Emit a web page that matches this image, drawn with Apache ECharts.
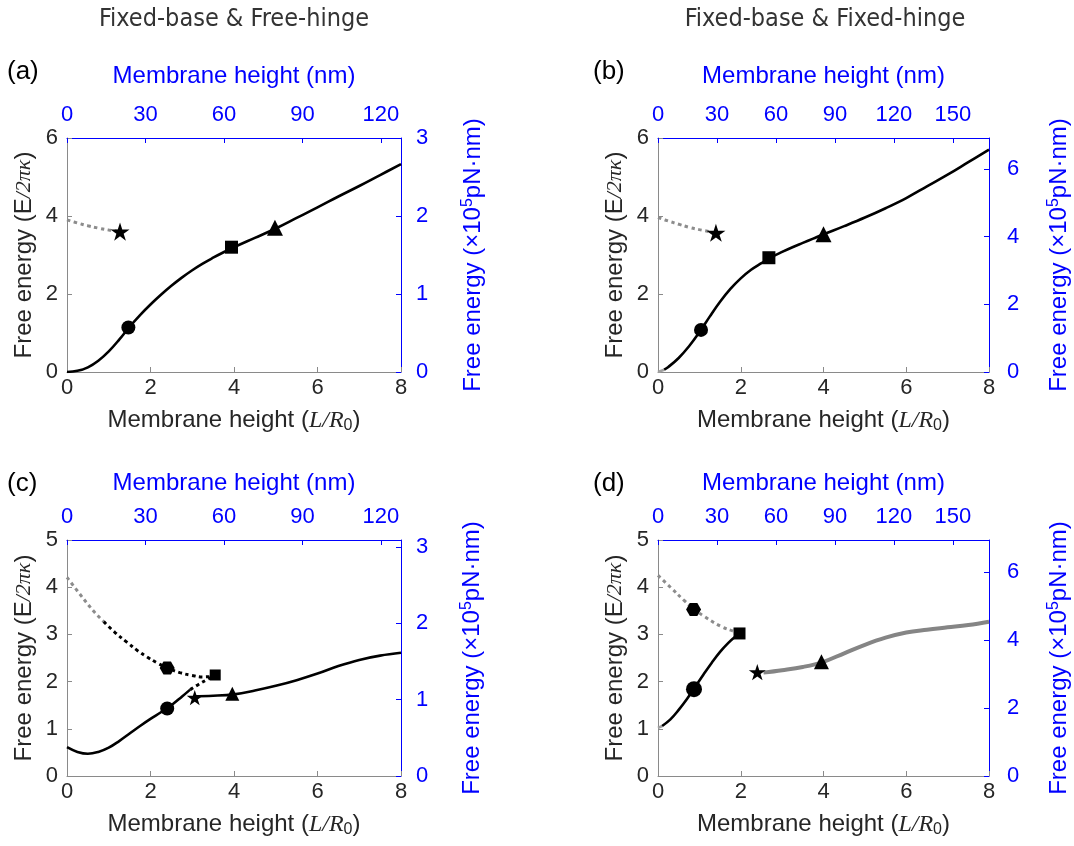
<!DOCTYPE html>
<html>
<head>
<meta charset="utf-8">
<script src="https://cdn.jsdelivr.net/npm/echarts@6/dist/echarts.min.js"></script>
<style>html,body{margin:0;padding:0;background:#fff;}#c{width:1074px;height:846px;}</style>
</head>
<body>
<div id="c"></div>
<script>
// ---------- DATA (L/R0 , E/2πκ) ----------
// Panel (a) Fixed-base & Free-hinge
const aSolid = [[0,0],[0.25,0.03],[0.5,0.12],[0.75,0.29],[1,0.53],[1.25,0.83],[1.5,1.16],[1.75,1.46],[2,1.73],[2.25,1.98],[2.5,2.21],[2.75,2.42],[3,2.61],[3.25,2.78],[3.5,2.93],[3.75,3.07],[4,3.2],[4.5,3.44],[5,3.68],[5.5,3.95],[6,4.22],[6.5,4.5],[7,4.77],[7.5,5.05],[8,5.33]];
const aDotGray = [[0,3.9],[0.25,3.82],[0.5,3.75],[0.75,3.69],[1,3.64],[1.25,3.61]];
const aStar = [1.27,3.6], aCircle = [1.47,1.14], aSquare = [3.94,3.2], aTriangle = [4.98,3.7];

// Panel (b) Fixed-base & Fixed-hinge
const bGrayStart = [[0,0],[0.15,0.06]];
const bSolid = [[0.15,0.06],[0.25,0.13],[0.5,0.36],[0.75,0.66],[1,1.02],[1.25,1.42],[1.5,1.8],[1.75,2.13],[2,2.4],[2.25,2.62],[2.5,2.79],[2.75,2.95],[3,3.08],[3.25,3.2],[3.5,3.31],[3.75,3.42],[4,3.53],[4.5,3.74],[5,3.96],[5.5,4.2],[6,4.46],[6.5,4.76],[7,5.06],[7.5,5.38],[8,5.7]];
const bDotGray = [[0,3.96],[0.25,3.87],[0.5,3.79],[0.75,3.71],[1,3.65],[1.25,3.6]];
const bStar = [1.4,3.57], bCircle = [1.04,1.08], bSquare = [2.68,2.93], bTriangle = [4,3.53];

// Panel (c)
const cSolid1 = [[0,0.61],[0.25,0.51],[0.5,0.47],[0.75,0.51],[1,0.6],[1.25,0.74],[1.5,0.9],[1.75,1.06],[2,1.21],[2.25,1.35],[2.5,1.5],[2.75,1.68],[2.95,1.83]];
const cSolid2 = [[3.02,1.69],[3.5,1.7],[4,1.73],[4.5,1.81],[5,1.91],[5.5,2.03],[6,2.17],[6.5,2.33],[7,2.46],[7.5,2.55],[8,2.61]];
const cDotGray = [[0,4.21],[0.32,3.84],[0.64,3.49],[0.88,3.27]];
const cDotBlack = [[0.88,3.27],[1.15,3.04],[1.44,2.83],[1.7,2.65],[1.92,2.52],[2.15,2.4],[2.4,2.29],[2.7,2.19],[3,2.13],[3.25,2.1],[3.5,2.11]];
const cDotLower = [[2.95,1.83],[3.15,1.94],[3.35,2.04],[3.5,2.11]];
const cHexagon = [2.4,2.29], cCircle = [2.4,1.43], cStar = [3.06,1.66], cSquare = [3.55,2.14], cTriangle = [3.96,1.74];

// Panel (d)
const dDotGray = [[0,4.25],[0.31,3.99],[0.63,3.72],[0.86,3.54],[1.12,3.38],[1.52,3.17],[1.85,3.06],[1.97,3.02]];
const dGrayStart = [[0,1.02],[0.1,1.06]];
const dSolid = [[0.1,1.06],[0.3,1.2],[0.5,1.4],[0.7,1.63],[0.9,1.89],[1.1,2.15],[1.3,2.4],[1.5,2.63],[1.7,2.82],[1.85,2.94],[1.97,3.01]];
const dGrayThick = [[2.55,2.19],[3,2.24],[3.5,2.31],[4,2.42],[4.5,2.6],[5,2.78],[5.5,2.93],[6,3.04],[6.5,3.1],[7,3.15],[7.5,3.2],[8,3.27]];
const dHexagon = [0.86,3.53], dCircle = [0.87,1.84], dSquare = [1.97,3.02], dStar = [2.4,2.2], dTriangle = [3.95,2.42];

// Axis ranges
const leftMax = [6, 6, 5, 5];
const leftInterval = [2, 2, 1, 1];
const rightMax = [3, 6.92, 3.09, 6.95];
const rightInterval = [1, 2, 1, 2];
const topMax = [127.7, 168.4, 127.7, 168.4];
const panelLabels = ['(a)', '(b)', '(c)', '(d)'];
const columnTitles = ['Fixed-base & Free-hinge', 'Fixed-base & Fixed-hinge'];

// ---------- LAYOUT ----------
const grids = [
  {left:67, top:138, width:334, height:234},
  {left:658, top:138, width:334, height:234},
  {left:67, top:540, width:334, height:236},
  {left:658, top:540, width:334, height:236}
];
const topNameGap = [50, 50, 45, 45];
const rightLabelMargin = [15, 18, 15, 18];
const rightNameGap = [59, 57, 58, 57];

const SANS = 'Liberation Sans';
const SERIF = 'Liberation Serif';
const GRAYAX = '#8a8a8a';
const BLUE = '#0000ff';
const TXT = '#262626';
const NAMESIZE = 24;

const STAR = 'path://M50 0 L61.23 34.55 L97.55 34.55 L68.17 55.9 L79.39 90.45 L50 69.1 L20.61 90.45 L31.83 55.9 L2.45 34.55 L38.77 34.55 Z';
const HEX = 'path://M0 50 L25 6.7 L75 6.7 L100 50 L75 93.3 L25 93.3 Z';

const xAxes = [], yAxes = [];
for (let i = 0; i < 4; i++) {
  xAxes.push({
    gridIndex: i, type: 'value', position: 'bottom', min: 0, max: 8, interval: 2,
    axisLine: {show: true, onZero: false, lineStyle: {color: GRAYAX, width: 1}},
    axisTick: {show: true, inside: true, length: 5, lineStyle: {color: GRAYAX}},
    axisLabel: {color: TXT, fontSize: 22, fontFamily: SANS, margin: 5},
    splitLine: {show: false},
    name: 'Membrane height ({it|L/R}{sub|0})', nameLocation: 'middle', nameGap: 35,
    nameTextStyle: {color: TXT, fontSize: NAMESIZE, fontFamily: SANS, lineHeight: 27,
      rich: {
        it: {fontFamily: SERIF, fontStyle: 'italic', fontSize: NAMESIZE, color: TXT, lineHeight: 27},
        sub: {fontFamily: SANS, fontSize: 16, color: TXT, verticalAlign: 'bottom', lineHeight: 22}
      }}
  });
  xAxes.push({
    gridIndex: i, type: 'value', position: 'top', min: 0, max: topMax[i], interval: 30,
    axisLine: {show: true, onZero: false, lineStyle: {color: BLUE, width: 1}},
    axisTick: {show: true, inside: true, length: 5, lineStyle: {color: BLUE}},
    axisLabel: {color: BLUE, fontSize: 22, fontFamily: SANS, margin: 12,
      formatter: v => (Math.abs(v % 30) < 1e-6 ? String(Math.round(v)) : '')},
    splitLine: {show: false},
    name: 'Membrane height (nm)', nameLocation: 'middle', nameGap: topNameGap[i],
    nameTextStyle: {color: BLUE, fontSize: NAMESIZE, fontFamily: SANS}
  });
  yAxes.push({
    gridIndex: i, type: 'value', position: 'left', min: 0, max: leftMax[i], interval: leftInterval[i],
    axisLine: {show: true, onZero: false, lineStyle: {color: GRAYAX, width: 1}},
    axisTick: {show: true, inside: true, length: 5, lineStyle: {color: GRAYAX}},
    axisLabel: {color: TXT, fontSize: 22, fontFamily: SANS, margin: 9},
    splitLine: {show: false},
    name: 'Free energy (E{it|/2πκ})', nameLocation: 'middle', nameGap: 31,
    nameTextStyle: {color: TXT, fontSize: NAMESIZE, fontFamily: SANS,
      rich: {it: {fontFamily: SERIF, fontStyle: 'italic', fontSize: 22, color: TXT}}}
  });
  yAxes.push({
    gridIndex: i, type: 'value', position: 'right', min: 0, max: rightMax[i], interval: rightInterval[i],
    axisLine: {show: true, onZero: false, lineStyle: {color: BLUE, width: 1}},
    axisTick: {show: true, inside: true, length: 5, lineStyle: {color: BLUE}},
    axisLabel: {color: BLUE, fontSize: 22, fontFamily: SANS, margin: rightLabelMargin[i],
      formatter: v => (Math.abs(v - Math.round(v)) < 1e-6 ? String(Math.round(v)) : '')},
    splitLine: {show: false},
    name: 'Free energy (×10{sup|5}pN·nm)', nameLocation: 'middle', nameGap: rightNameGap[i],
    nameTextStyle: {color: BLUE, fontSize: NAMESIZE, fontFamily: SANS, lineHeight: 27,
      rich: {sup: {fontSize: 16, fontFamily: SANS, color: BLUE, verticalAlign: 'top', lineHeight: 22}}}
  });
}

function line(i, data, color, width, dotted) {
  return {
    type: 'line', xAxisIndex: 2 * i, yAxisIndex: 2 * i, data: data,
    showSymbol: false, smooth: 0.4, silent: true, z: 3,
    lineStyle: {color: color, width: width, type: dotted ? [3.5, 3.5] : 'solid', cap: 'butt', opacity: 1}
  };
}
function mark(i, pt, symbol, size) {
  return {
    type: 'scatter', xAxisIndex: 2 * i, yAxisIndex: 2 * i, data: [pt],
    symbol: symbol, symbolSize: size, symbolKeepAspect: true, silent: true, z: 5,
    itemStyle: {color: '#000', borderWidth: 0, opacity: 1}
  };
}

const series = [
  // (a)
  line(0, aDotGray, '#8c8c8c', 3, true),
  line(0, aSolid, '#000', 2.6, false),
  mark(0, aStar, STAR, 19), mark(0, aCircle, 'circle', 14), mark(0, aSquare, 'rect', 13), mark(0, aTriangle, 'triangle', 16),
  // (b)
  line(1, bDotGray, '#8c8c8c', 3, true),
  line(1, bGrayStart, '#a0a0a0', 2.6, false),
  line(1, bSolid, '#000', 2.6, false),
  mark(1, bStar, STAR, 19), mark(1, bCircle, 'circle', 14), mark(1, bSquare, 'rect', 13), mark(1, bTriangle, 'triangle', 16),
  // (c)
  line(2, cDotGray, '#8c8c8c', 3, true),
  line(2, cDotBlack, '#000', 3, true),
  line(2, cDotLower, '#000', 3, true),
  line(2, cSolid1, '#000', 2.6, false),
  line(2, cSolid2, '#000', 2.6, false),
  mark(2, cHexagon, HEX, 15), mark(2, cCircle, 'circle', 14), mark(2, cStar, STAR, 16), mark(2, cSquare, 'rect', 11), mark(2, cTriangle, 'triangle', 14),
  // (d)
  line(3, dDotGray, '#8c8c8c', 3, true),
  line(3, dGrayStart, '#a0a0a0', 2.6, false),
  line(3, dSolid, '#000', 2.6, false),
  line(3, dGrayThick, '#858585', 4, false),
  mark(3, dHexagon, HEX, 15), mark(3, dCircle, 'circle', 16), mark(3, dSquare, 'rect', 12), mark(3, dStar, STAR, 17), mark(3, dTriangle, 'triangle', 15)
];

const labelPos = [[7, 72], [593, 72], [7, 484], [593, 484]];
const graphic = [];
for (let i = 0; i < 4; i++) {
  graphic.push({type: 'text', x: labelPos[i][0], y: labelPos[i][1], silent: true,
    style: {text: panelLabels[i], fontFamily: SANS, fontSize: 26, fill: '#000', align: 'left', verticalAlign: 'middle'}});
}
const titleX = [234, 825];
for (let j = 0; j < 2; j++) {
  graphic.push({type: 'text', x: titleX[j], y: 19, silent: true,
    style: {text: columnTitles[j], fontFamily: 'DejaVu Sans Condensed', fontSize: 25, fill: '#333', align: 'center', verticalAlign: 'middle'}});
}

const chart = echarts.init(document.getElementById('c'), null, {renderer: 'canvas'});
chart.setOption({
  animation: false,
  backgroundColor: '#fff',
  grid: grids.map(g => Object.assign({containLabel: false}, g)),
  xAxis: xAxes,
  yAxis: yAxes,
  series: series,
  graphic: graphic
});
</script>
</body>
</html>
